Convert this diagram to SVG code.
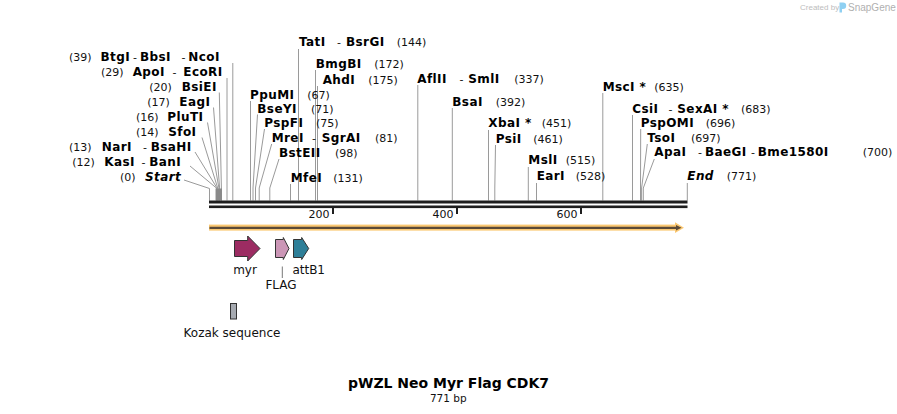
<svg xmlns="http://www.w3.org/2000/svg" width="897" height="414" viewBox="0 0 897 414">
<style>
.n{font-family:"DejaVu Sans",Verdana,sans-serif;font-weight:bold;font-size:12px;letter-spacing:0.4px;fill:#000}
.ni{font-family:"DejaVu Sans",Verdana,sans-serif;font-weight:bold;font-style:italic;font-size:12px;letter-spacing:0.4px;fill:#000}
.p{font-family:"DejaVu Sans",Verdana,sans-serif;font-size:11px;letter-spacing:0;font-weight:normal;fill:#111}
.f{font-family:"DejaVu Sans",Verdana,sans-serif;font-size:12px;fill:#111}
.c{stroke:#9a9a9a;stroke-width:1;fill:none}
.bb{fill:#1e1e1e}
.feat{stroke:#333;stroke-width:1}
</style>
<rect width="897" height="414" fill="#fff"/>

<g id="watermark">
<text x="800" y="10" font-family="Liberation Sans, Arial, sans-serif" font-size="8" fill="#bdbdbd">Created by</text>
<path d="M839.5 2.5 h3.5 a3.2 3.2 0 0 1 0 6.4 h-1 v3.6 h-2.5 z" fill="#8fd0f2"/>
<text x="848" y="10.5" font-family="Liberation Sans, Arial, sans-serif" font-size="10" fill="#b0b0b0">SnapGene</text>
</g>

<g id="connectors">
<polyline class="c" points="232.8,63 232.8,200.5"/>
<polyline class="c" points="227,78 227,200.5"/>
<polyline class="c" points="219.3,92.5 221.4,188 221.4,200.5"/>
<polyline class="c" points="213.5,107.5 219.6,188 219.6,200.5"/>
<polyline class="c" points="207.5,122.5 218.9,188 218.9,200.5"/>
<polyline class="c" points="202,137.5 217.7,188 217.7,200.5"/>
<polyline class="c" points="195,152 217,188 217,200.5"/>
<polyline class="c" points="190,166 216.4,188 216.4,200.5"/>
<polyline class="c" points="184,180 209.5,188.5 209.5,200.5"/>
<polyline class="c" points="298.5,49 298.5,200.5"/>
<polyline class="c" points="315.5,70 315.5,200.5"/>
<polyline class="c" points="317.5,86 317.5,200.5"/>
<polyline class="c" points="250.5,101 250.5,200.5"/>
<polyline class="c" points="257.5,114.5 253,188 253,200.5"/>
<polyline class="c" points="264.5,129 255.5,188 255.5,200.5"/>
<polyline class="c" points="271.7,144 259.2,188 259.2,200.5"/>
<polyline class="c" points="279,159 269.8,188 269.8,200.5"/>
<polyline class="c" points="290.5,184 290.5,200.5"/>
<polyline class="c" points="417.8,85 417.8,200.5"/>
<polyline class="c" points="452.3,108 452.3,200.5"/>
<polyline class="c" points="488.5,130 488.5,200.5"/>
<polyline class="c" points="495.5,145 494.8,188 494.8,200.5"/>
<polyline class="c" points="528.3,167 528.3,200.5"/>
<polyline class="c" points="536.5,183 536.5,200.5"/>
<polyline class="c" points="602.8,93 602.8,200.5"/>
<polyline class="c" points="632.5,115 632.5,200.5"/>
<polyline class="c" points="640.7,129 640.5,188 640.5,200.5"/>
<polyline class="c" points="647.3,144 641.6,188 641.6,200.5"/>
<polyline class="c" points="654.3,159 643.3,188 643.3,200.5"/>
<polyline class="c" points="687.3,183 687.3,200.5"/>
<rect x="215.6" y="188.5" width="6.4" height="12" fill="#8a8a8a"/>
</g>

<g id="backbone">
<rect class="bb" x="209" y="200.5" width="478.5" height="3"/>
<rect class="bb" x="209" y="205.5" width="478.5" height="2.6"/>
<rect class="bb" x="332" y="208" width="2" height="6"/>
<rect class="bb" x="456" y="208" width="2" height="6"/>
<rect class="bb" x="580" y="208" width="2" height="6"/>
<text class="p" x="329.5" y="217.5" text-anchor="end">200</text>
<text class="p" x="453.5" y="217.5" text-anchor="end">400</text>
<text class="p" x="577.5" y="217.5" text-anchor="end">600</text>
</g>

<g id="site-39"><text class="p" x="69" y="61">(39)</text><text class="n" y="61"><tspan x="100.5">BtgI</tspan><tspan class="p" x="133">-</tspan><tspan x="140">BbsI</tspan><tspan class="p" x="181.5">-</tspan><tspan x="188.3">NcoI</tspan></text></g>
<g id="site-29"><text class="p" x="101" y="76">(29)</text><text class="n" y="76"><tspan x="132.7">ApoI</tspan><tspan class="p" x="172.5">-</tspan><tspan x="183.3">EcoRI</tspan></text></g>
<g id="site-20"><text class="p" x="149.3" y="91">(20)</text><text class="n" x="181.7" y="91">BsiEI</text></g>
<g id="site-17"><text class="p" x="147.3" y="106">(17)</text><text class="n" x="179.3" y="106">EagI</text></g>
<g id="site-16"><text class="p" x="136" y="121">(16)</text><text class="n" x="167.3" y="121">PluTI</text></g>
<g id="site-14"><text class="p" x="136" y="136">(14)</text><text class="n" x="168.3" y="136">SfoI</text></g>
<g id="site-13"><text class="p" x="69" y="151">(13)</text><text class="n" y="151"><tspan x="101.7">NarI</tspan><tspan class="p" x="143">-</tspan><tspan x="150.7">BsaHI</tspan></text></g>
<g id="site-12"><text class="p" x="72.3" y="166">(12)</text><text class="n" y="166"><tspan x="104.3">KasI</tspan><tspan class="p" x="141.5">-</tspan><tspan x="149.3">BanI</tspan></text></g>
<g id="site-0"><text class="p" x="120" y="181">(0)</text><text class="ni" x="145" y="181">Start</text></g>

<g id="site-144"><text class="n" y="46"><tspan x="299">TatI</tspan><tspan class="p" x="337">-</tspan><tspan x="346">BsrGI</tspan></text><text class="p" x="396.7" y="46">(144)</text></g>
<g id="site-172"><text class="n" x="315.7" y="67.5">BmgBI</text><text class="p" x="374.3" y="67.5">(172)</text></g>
<g id="site-175"><text class="n" x="322.7" y="83.5">AhdI</text><text class="p" x="368.3" y="83.5">(175)</text></g>
<g id="site-67"><text class="n" x="250" y="99">PpuMI</text><text class="p" x="307.3" y="99">(67)</text></g>
<g id="site-71"><text class="n" x="257.3" y="112.5">BseYI</text><text class="p" x="311" y="112.5">(71)</text></g>
<g id="site-75"><text class="n" x="264.3" y="126.7">PspFI</text><text class="p" x="316" y="126.7">(75)</text></g>
<g id="site-81"><text class="n" y="141.7"><tspan x="271.7">MreI</tspan><tspan class="p" x="312">-</tspan><tspan x="321.7">SgrAI</tspan></text><text class="p" x="375" y="141.7">(81)</text></g>
<g id="site-98"><text class="n" x="279" y="156.7">BstEII</text><text class="p" x="335" y="156.7">(98)</text></g>
<g id="site-131"><text class="n" x="290.7" y="181.7">MfeI</text><text class="p" x="333.3" y="181.7">(131)</text></g>

<g id="site-337"><text class="n" y="82.7"><tspan x="417.3">AflII</tspan><tspan class="p" x="459.5">-</tspan><tspan x="468.3">SmlI</tspan></text><text class="p" x="514.3" y="82.7">(337)</text></g>
<g id="site-392"><text class="n" x="452.3" y="105.7">BsaI</text><text class="p" x="495.7" y="105.7">(392)</text></g>
<g id="site-451"><text class="n" x="488.3" y="127.3">XbaI *</text><text class="p" x="541.7" y="127.3">(451)</text></g>
<g id="site-461"><text class="n" x="495.7" y="142.7">PsiI</text><text class="p" x="533.3" y="142.7">(461)</text></g>
<g id="site-515"><text class="n" x="528.3" y="164.3">MslI</text><text class="p" x="565.7" y="164.3">(515)</text></g>
<g id="site-528"><text class="n" x="536.7" y="180">EarI</text><text class="p" x="575.7" y="180">(528)</text></g>
<g id="site-635"><text class="n" x="602.7" y="90.7">MscI *</text><text class="p" x="654.3" y="90.7">(635)</text></g>
<g id="site-683"><text class="n" y="112.7"><tspan x="632.3">CsiI</tspan><tspan class="p" x="668.5">-</tspan><tspan x="677.3">SexAI *</tspan></text><text class="p" x="741" y="112.7">(683)</text></g>
<g id="site-696"><text class="n" x="640.7" y="126.7">PspOMI</text><text class="p" x="705.7" y="126.7">(696)</text></g>
<g id="site-697"><text class="n" x="647.3" y="141.7">TsoI</text><text class="p" x="691" y="141.7">(697)</text></g>
<g id="site-700"><text class="n" y="156"><tspan x="654.3">ApaI</tspan><tspan class="p" x="698">-</tspan><tspan x="705">BaeGI</tspan><tspan class="p" x="751">-</tspan><tspan x="757.7">Bme1580I</tspan></text><text class="p" x="862.7" y="156">(700)</text></g>
<g id="site-771"><text class="ni" x="687.3" y="180">End</text><text class="p" x="726.7" y="180">(771)</text></g>

<g id="orf">
<rect x="209" y="224.6" width="468" height="6" fill="#fbc872"/>
<polygon points="675,222.3 684,227.7 675,233.1" fill="#fbc872"/>
<line x1="209.5" y1="227.8" x2="677" y2="227.8" stroke="#5b4a38" stroke-width="2.2"/>
<polygon points="676,225 681.5,227.8 676,230.6" fill="#5b4a38"/>
</g>

<g id="myr">
<polygon class="feat" points="234.5,240.5 247.7,240.5 247.7,236 260,248.5 247.7,261 247.7,256.5 234.5,256.5" fill="#9c2c62"/>
<text class="f" x="245" y="273.5" text-anchor="middle">myr</text>
</g>
<g id="FLAG">
<polygon class="feat" points="275.5,239.5 283.3,239.5 283.3,237.5 289,248.5 283.3,259.5 283.3,257.5 275.5,257.5" fill="#cb96b6"/>
<line x1="282.3" y1="266.5" x2="282.3" y2="278" stroke="#777" stroke-width="1"/>
<text class="f" x="281" y="289" text-anchor="middle">FLAG</text>
</g>
<g id="attB1">
<polygon class="feat" points="293.5,239.5 301.7,239.5 301.7,237.5 308.7,248.5 301.7,259.5 301.7,257.5 293.5,257.5" fill="#2e7f98"/>
<text class="f" x="308.7" y="273.5" text-anchor="middle">attB1</text>
</g>
<g id="kozak">
<rect x="230.5" y="303.5" width="6" height="15.5" fill="#a6aab1" stroke="#333" stroke-width="1"/>
<text class="f" x="232" y="336.5" text-anchor="middle">Kozak sequence</text>
</g>

<g id="title">
<text x="448.5" y="388.3" text-anchor="middle" font-family="DejaVu Sans, Verdana, sans-serif" font-weight="bold" font-size="14" fill="#000">pWZL Neo Myr Flag CDK7</text>
<text x="448.3" y="401.7" text-anchor="middle" font-family="DejaVu Sans, Verdana, sans-serif" font-size="10.5" fill="#111">771 bp</text>
</g>
</svg>
